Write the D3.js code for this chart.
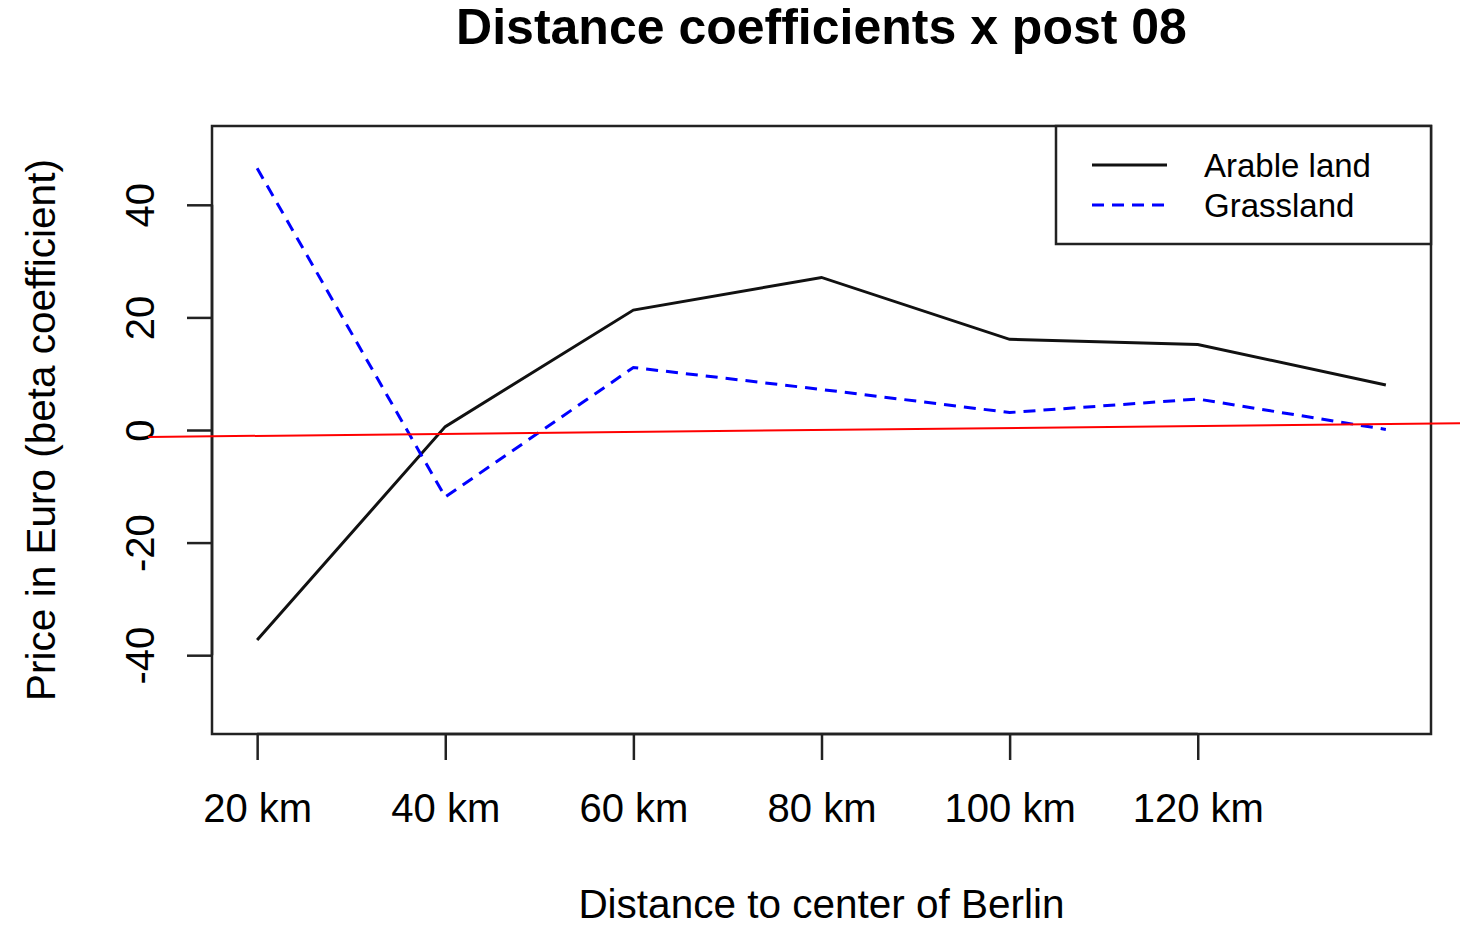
<!DOCTYPE html>
<html>
<head>
<meta charset="utf-8">
<script src="https://cdn.jsdelivr.net/npm/d3@7"></script>
<style>
  body { margin: 0; background: #fff; }
  svg { display: block; font-family: "Liberation Sans", Arial, sans-serif; }
</style>
</head>
<body>
<svg id="chart"></svg>
<script>
// data
let distances = [20, 40, 60, 80, 100, 120, 140];
let tickLabels = ["20 km", "40 km", "60 km", "80 km", "100 km", "120 km"];
let arable = [-37.3, 0.6, 21.3, 27.1, 16.1, 15.2, 8.0];
let grassland = [46.5, -11.9, 11.1, 7.2, 3.1, 5.5, 0.1];
let yTicks = [-40, -20, 0, 20, 40];
let redLine = [[8.4, -1.24], [147.9, 1.19]];
let legendItems = [
    {text: "Arable land", color: "#111", dash: null},
    {text: "Grassland", color: "#0000ff", dash: "12,8"}
];

let width = 1460, height = 927;
let box = {left: 212, right: 1431, top: 126, bottom: 734};

var svg = d3.select("#chart")
    .attr("width", width)
    .attr("height", height);

// R style 4% extension on xlim = c(20,140), ylim = c(-50,50)
let x = d3.scaleLinear().domain([15.2, 144.8]).range([box.left, box.right]);
let y = d3.scaleLinear().domain([-54, 54]).range([box.bottom, box.top]);

// title
svg.append("text")
    .attr("x", (box.left + box.right) / 2)
    .attr("y", 44)
    .attr("text-anchor", "middle")
    .style("font-size", "50px")
    .style("font-weight", "bold")
    .text("Distance coefficients x post 08");

// x axis
var xAxis = svg.append("g")
    .attr("transform", "translate(0," + box.bottom + ")")
    .call(d3.axisBottom(x).tickValues(distances.slice(0, 6))
        .tickFormat((d, i) => tickLabels[i]).tickSize(26).tickSizeOuter(0));
xAxis.select(".domain").attr("d", "M" + x(20) + ",0H" + x(120)).attr("stroke-width", 2.5);
xAxis.selectAll(".tick line").attr("stroke-width", 2.5).attr("stroke", "#222");
xAxis.selectAll(".tick text")
    .attr("y", 88)
    .attr("dy", 0)
    .style("font-size", "40px")
    .attr("fill", "#000");

// y axis
var yAxis = svg.append("g")
    .attr("transform", "translate(" + box.left + ",0)")
    .call(d3.axisLeft(y).tickValues(yTicks).tickFormat(d => String(d))
        .tickSize(25).tickSizeOuter(0));
yAxis.select(".domain").attr("d", "M0," + y(-40) + "V" + y(40)).attr("stroke-width", 2.5);
yAxis.selectAll(".tick line").attr("stroke-width", 2.5).attr("stroke", "#222");
yAxis.selectAll(".tick text")
    .attr("x", 0).attr("y", 0).attr("dy", 0)
    .attr("text-anchor", "middle")
    .attr("transform", "translate(-58,0) rotate(-90)")
    .style("font-size", "40px")
    .attr("fill", "#000");

// axis titles
svg.append("text")
    .attr("x", (box.left + box.right) / 2)
    .attr("y", 918)
    .attr("text-anchor", "middle")
    .style("font-size", "40.5px")
    .text("Distance to center of Berlin");

svg.append("text")
    .attr("transform", "translate(55," + ((box.top + box.bottom) / 2) + ") rotate(-90)")
    .attr("text-anchor", "middle")
    .style("font-size", "40.5px")
    .text("Price in Euro (beta coefficient)");

// plot box
svg.append("rect")
    .attr("x", box.left).attr("y", box.top)
    .attr("width", box.right - box.left).attr("height", box.bottom - box.top)
    .attr("fill", "none").attr("stroke", "#222").attr("stroke-width", 2.5);

// lines
let line = d3.line().x((d, i) => x(distances[i])).y(d => y(d));

svg.append("path")
    .datum(arable)
    .attr("d", line)
    .attr("fill", "none")
    .attr("stroke", "#111")
    .attr("stroke-width", 3);

svg.append("path")
    .datum(grassland)
    .attr("d", line)
    .attr("fill", "none")
    .attr("stroke", "#0000ff")
    .attr("stroke-width", 3)
    .attr("stroke-dasharray", "12,8");

// red reference line
svg.append("line")
    .attr("x1", x(redLine[0][0])).attr("y1", y(redLine[0][1]))
    .attr("x2", x(redLine[1][0])).attr("y2", y(redLine[1][1]))
    .attr("stroke", "#ff0000")
    .attr("stroke-width", 2);

// legend
var legend = svg.append("g");
legend.append("rect")
    .attr("x", 1056).attr("y", box.top)
    .attr("width", box.right - 1056).attr("height", 244 - box.top)
    .attr("fill", "#fff").attr("stroke", "#222").attr("stroke-width", 2.5);

legendItems.forEach(function(item, i) {
    let ly = 165 + i * 40;
    legend.append("line")
        .attr("x1", 1092).attr("x2", 1167)
        .attr("y1", ly).attr("y2", ly)
        .attr("stroke", item.color)
        .attr("stroke-width", 3)
        .attr("stroke-dasharray", item.dash);
    legend.append("text")
        .attr("x", 1204).attr("y", ly + 12)
        .style("font-size", "33px")
        .text(item.text);
});
</script>
</body>
</html>
